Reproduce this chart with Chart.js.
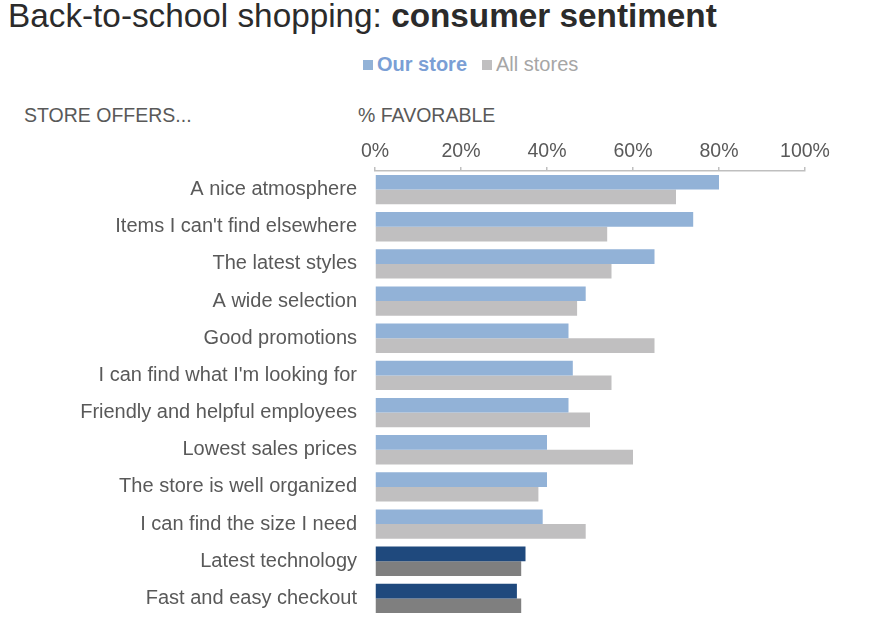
<!DOCTYPE html>
<html>
<head>
<meta charset="utf-8">
<script src="https://cdn.jsdelivr.net/npm/chart.js@4.4.1/dist/chart.umd.min.js"></script>
<style>
  html, body { margin: 0; padding: 0; background: #ffffff; }
  body { width: 880px; height: 617px; position: relative; overflow: hidden;
         font-family: "Liberation Sans", Arial, sans-serif; }
  #title { position: absolute; left: 8px; top: -1px; font-size: 33.3px; line-height: 33px;
           color: #2b2b2b; white-space: nowrap; }
  #title b { font-weight: bold; }
  #legend { position: absolute; left: 363px; top: 54px; font-size: 20px; line-height: 20px;
            white-space: nowrap; }
  #legend .item { display: inline-block; margin-right: 15px; }
  #legend .sw { display: inline-block; width: 10px; height: 10px; margin-right: 4px;
                vertical-align: 1px; }
  .hdr { position: absolute; top: 106px; font-size: 19.5px; line-height: 19.5px;
         color: #595959; white-space: nowrap; }
  #chartWrap { position: absolute; left: 0; top: 0; width: 880px; height: 617px; }
</style>
</head>
<body>
<div id="title">Back-to-school shopping: <b>consumer sentiment</b></div>
<div id="legend"></div>
<div class="hdr" style="left:24px;">STORE OFFERS...</div>
<div class="hdr" style="left:358px;">% FAVORABLE</div>
<div id="chartWrap"><canvas id="c"></canvas></div>
<script>
// ---- data ----
const categories = [
  "A nice atmosphere",
  "Items I can't find elsewhere",
  "The latest styles",
  "A wide selection",
  "Good promotions",
  "I can find what I'm looking for",
  "Friendly and helpful employees",
  "Lowest sales prices",
  "The store is well organized",
  "I can find the size I need",
  "Latest technology",
  "Fast and easy checkout"
];
const seriesNames = ["Our store", "All stores"];
const ourStore  = [80, 74, 65, 49, 45, 46, 45, 40, 40, 39, 35, 33];
const allStores = [70, 54, 55, 47, 65, 55, 50, 60, 38, 49, 34, 34];
const highlighted = ["Latest technology", "Fast and easy checkout"];
const tickValues = [0, 20, 40, 60, 80, 100];

// ---- styles ----
const ourLight = "#92b2d7", ourDark = "#1f497d";
const allLight = "#c0bfc0", allDark = "#7f7f7f";
const colorsFor = (light, dark) => categories.map(c => highlighted.includes(c) ? dark : light);

// legend (HTML)
const legend = document.getElementById("legend");
[[seriesNames[0], ourLight, "#7b9fd5", "bold"], [seriesNames[1], allLight, "#a6a6a6", "normal"]]
  .forEach(([name, sw, tc, fw]) => {
    const s = document.createElement("span");
    s.className = "item";
    s.innerHTML = '<span class="sw" style="background:' + sw + '"></span>' +
      '<span style="color:' + tc + ';font-weight:' + fw + '">' + name + '</span>';
    legend.appendChild(s);
  });

new Chart(document.getElementById("c"), {
  type: "bar",
  data: {
    labels: categories,
    datasets: [
      { label: seriesNames[0], data: ourStore, backgroundColor: colorsFor(ourLight, ourDark),
        borderWidth: 0, barPercentage: 1, categoryPercentage: 0.79 },
      { label: seriesNames[1], data: allStores, backgroundColor: colorsFor(allLight, allDark),
        borderWidth: 0, barPercentage: 1, categoryPercentage: 0.79 }
    ]
  },
  options: {
    indexAxis: "y",
    responsive: true,
    maintainAspectRatio: false,
    animation: false,
    layout: { padding: { top: 131, right: 75, bottom: -2, left: 0 } },
    plugins: { legend: { display: false }, tooltip: { enabled: false } },
    scales: {
      x: {
        position: "top",
        min: 0, max: 100,
        afterBuildTicks: s => { s.ticks = tickValues.map(v => ({ value: v })); },
        afterFit: s => { s.height = 40; },
        ticks: {
          callback: v => v + "%",
          color: "#595959",
          font: { family: "'Liberation Sans', Arial, sans-serif", size: 19.5 },
          padding: 4,
          maxRotation: 0
        },
        grid: { drawOnChartArea: false, drawTicks: true, tickLength: 4,
                color: "#bfbfbf", lineWidth: 1.5 },
        border: { display: true, color: "#bfbfbf", width: 1.5 }
      },
      y: {
        afterFit: s => { s.width = 375; s.paddingTop = 0; s.paddingBottom = 0; },
        ticks: {
          color: "#595959",
          font: { family: "'Liberation Sans', Arial, sans-serif", size: 20 },
          padding: 18,
          autoSkip: false
        },
        grid: { display: false, drawTicks: false },
        border: { display: false }
      }
    }
  }
});
</script>
</body>
</html>
